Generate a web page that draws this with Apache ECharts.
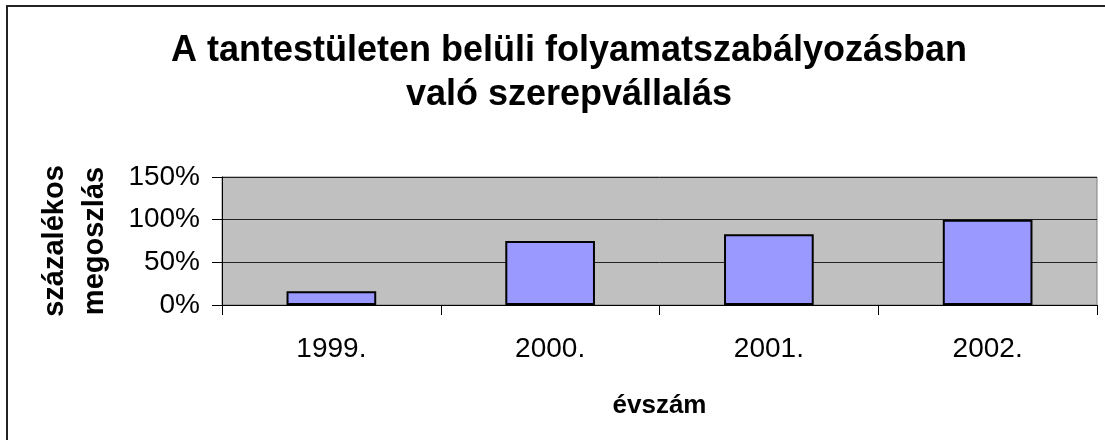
<!DOCTYPE html>
<html>
<head>
<meta charset="utf-8">
<script src="https://cdn.jsdelivr.net/npm/echarts@6/dist/echarts.min.js"></script>
<style>
  html, body { margin: 0; padding: 0; background: #fff; }
  #chart { width: 1105px; height: 440px; }
</style>
</head>
<body>
<div id="chart"></div>
<script>
  const years = ['1999.', '2000.', '2001.', '2002.']
  const shares = [16, 75, 83, 100]
  const yTicks = [0, 50, 100, 150]

  const font = "'Liberation Sans', Arial, sans-serif"

  const chart = echarts.init(document.getElementById('chart'))
  chart.setOption({
    animation: false,
    backgroundColor: '#fff',
    textStyle: { fontFamily: font, color: '#000' },
    title: {
      text: 'A tantestületen belüli folyamatszabályozásban\nvaló szerepvállalás',
      left: 564,
      top: 24,
      textAlign: 'center',
      textStyle: {
        fontFamily: font,
        fontSize: 36,
        fontWeight: 'bold',
        color: '#000',
        lineHeight: 44
      }
    },
    graphic: [{
      type: 'rect',
      shape: { x: 7, y: 6, width: 1200, height: 500 },
      style: { fill: 'none', stroke: '#222', lineWidth: 2 },
      silent: true
    }],
    grid: {
      left: 222,
      right: 8,
      top: 177,
      height: 128,
      show: true,
      backgroundColor: '#C0C0C0',
      borderColor: '#808080',
      borderWidth: 1
    },
    xAxis: {
      type: 'category',
      data: years,
      name: 'évszám',
      nameLocation: 'middle',
      nameGap: 88,
      nameTextStyle: { fontFamily: font, fontSize: 26, fontWeight: 'bold', color: '#000' },
      axisLine: { lineStyle: { color: '#000', width: 1 } },
      axisTick: { show: true, length: 10, lineStyle: { color: '#000' } },
      axisLabel: { fontFamily: font, fontSize: 28, color: '#000', margin: 30 }
    },
    yAxis: {
      type: 'value',
      min: yTicks[0],
      max: yTicks[yTicks.length - 1],
      interval: yTicks[1] - yTicks[0],
      name: 'százalékos\nmegoszlás',
      nameLocation: 'middle',
      nameRotate: 90,
      nameGap: 107,
      nameTextStyle: { fontFamily: font, fontSize: 29, fontWeight: 'bold', color: '#000', lineHeight: 40 },
      axisLine: { show: true, lineStyle: { color: '#000', width: 1 } },
      axisTick: { show: true, length: 10, lineStyle: { color: '#000' } },
      axisLabel: { fontFamily: font, fontSize: 28, color: '#000', margin: 22, formatter: '{value}%' },
      splitLine: { show: true, lineStyle: { color: '#222', width: 1 } }
    },
    series: [{
      type: 'bar',
      data: shares,
      barWidth: '41%',
      itemStyle: { color: '#9999FF', borderColor: '#000', borderWidth: 2 }
    }]
  })
</script>
</body>
</html>
